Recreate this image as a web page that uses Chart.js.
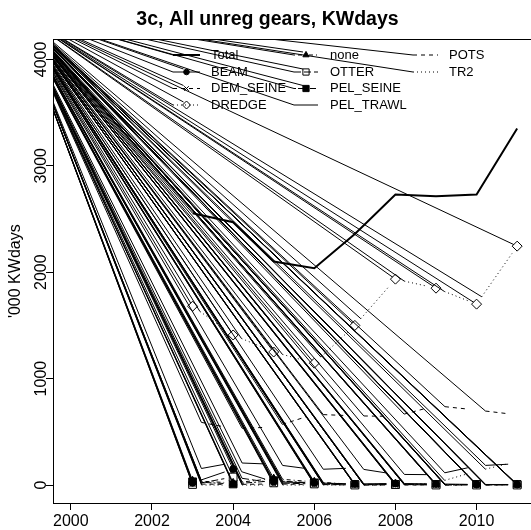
<!DOCTYPE html>
<html><head><meta charset="utf-8">
<script src="https://cdn.jsdelivr.net/npm/chart.js@4.4.1/dist/chart.umd.min.js"></script>
<style>html,body{margin:0;padding:0;overflow:hidden;background:#fff;width:531px;height:530px}canvas{display:block}</style>
</head><body><canvas id="c" width="588" height="530"></canvas>
<script>
// ---- data ----
const years = [2003, 2004, 2005, 2006, 2007, 2008, 2009, 2010, 2011];
const total    = [2554, 2470, 2100, 2037, 2360, 2730, 2715, 2730, 3350];
const beam     = [20, 150, 30, 20, 10, 15, 10, 5, 5];
const demSeine = [10, 5, 10, 5, 0, 0, 0, 0, 0];
const dredge   = [1680, 1410, 1250, 1145, 1500, 1935, 1850, 1700, 2245];
const none     = [40, 20, 60, 30, 5, 10, 5, 5, 5];
const otter    = [5, 75, 20, 10, 0, 5, 0, 0, 0];
const pelSeine = [30, 10, 40, 20, 5, 5, 5, 5, 5];
const pelTrawl = [140, 210, 195, 145, 160, 100, 97, 180, 200];
const pots     = [605, 530, 545, 665, 650, 645, 745, 705, 660];
const tr2      = [0, 0, 0, 0, 0, 0, 20, 130, 220];
const xTicks = [2000, 2002, 2004, 2006, 2008, 2010];
const yTicks = [0, 1000, 2000, 3000, 4000];
const fanX = 1998.65;   // common origin of the stray strokes
const fanY = 4460;

const FONT = "'Liberation Sans', Arial, sans-serif";
const GAP = 9; // px gap around points (type "b")

const defs = [
  {label:'Total',     vals: total,    dash: [],         w: 2, ps: false, typeB: false},
  {label:'BEAM',      vals: beam,     dash: [],         w: 1, ps: 'circle',   r: 3.5, fill: true},
  {label:'DEM_SEINE', vals: demSeine, dash: [4,4],      w: 1, ps: 'crossRot', r: 4,   fill: false},
  {label:'DREDGE',    vals: dredge,   dash: [1,3],      w: 1, ps: 'rectRot',  r: 5,   fill: false},
  {label:'none',      vals: none,     dash: [1,3,4,3],  w: 1, ps: 'triangle', r: 4.5, fill: true},
  {label:'OTTER',     vals: otter,    dash: [7,3],      w: 1, ps: 'rect',     r: 5.5, fill: false},
  {label:'PEL_SEINE', vals: pelSeine, dash: [2,2,6,2],  w: 1, ps: 'rect',     r: 5.5, fill: true},
  {label:'PEL_TRAWL', vals: pelTrawl, dash: [],         w: 1, ps: false},
  {label:'POTS',      vals: pots,     dash: [4,4],      w: 1, ps: false},
  {label:'TR2',       vals: tr2,      dash: [1,3],      w: 1, ps: false}
];

// dash array that leaves a gap of GAP px at both ends of a segment of length L
function gappedDash(L, pat) {
  const out = [0, GAP];
  let rem = L - 2 * GAP;
  if (!(rem > 0)) return [0, 100000];
  if (!pat.length) { out.push(rem, 100000); return out; }
  let k = 0;
  while (rem > 0) {
    const p = pat[k % pat.length];
    out.push(Math.min(p, rem)); rem -= p; k++;
  }
  if (out.length % 2 === 1) out.push(100000); else out.push(0, 100000);
  return out;
}

function segDash(ctx) {
  const ds = ctx.dataset, ch = ctx.chart;
  const xs = ch.scales && ch.scales.x, ys = ch.scales && ch.scales.y;
  if (!xs || !ys || !ds || !ds._seg) return [];
  const [a, b] = ds.data;
  const L = Math.hypot(xs.getPixelForValue(b.x) - xs.getPixelForValue(a.x),
                       ys.getPixelForValue(b.y) - ys.getPixelForValue(a.y));
  return isFinite(L) && L > 0 ? gappedDash(L, ds._seg) : ds._seg;
}

const datasets = [];
defs.forEach((d, k) => {
  const typeB = d.typeB !== false;
  // series: full line for Total, symbols only for the others
  datasets.push({
    label: d.label,
    data: years.map((y, i) => ({x: y, y: d.vals[i]})),
    showLine: !typeB,
    borderColor: '#000', borderWidth: d.w, borderDash: d.dash,
    pointStyle: d.ps || 'circle', pointRadius: d.ps ? d.r : 0,
    pointBorderColor: '#000', pointBorderWidth: 1,
    pointBackgroundColor: d.fill ? '#000' : '#fff',
    fill: false, tension: 0
  });
  // "type b" connecting segments, each with a gap at both ends
  if (typeB) {
    for (let i = 0; i < years.length - 1; i++) {
      datasets.push({
        label: d.label + '_seg' + i,
        data: [{x: years[i], y: d.vals[i]}, {x: years[i + 1], y: d.vals[i + 1]}],
        _seg: d.dash,
        borderColor: '#000', borderWidth: d.w, borderDash: segDash,
        pointRadius: 0, fill: false, tension: 0
      });
    }
  }
  // stray strokes from the common origin: to the start of the Total line,
  // and to every plotted symbol of the other series
  if (k === 0 || d.ps) {
    const fan = [];
    const n = k === 0 ? 1 : years.length;
    for (let i = 0; i < n; i++) {
      fan.push({x: fanX, y: fanY});
      fan.push({x: years[i], y: d.vals[i]});
      fan.push({x: years[i], y: null});
    }
    datasets.push({
      label: d.label + '_fan', data: fan,
      borderColor: '#000', borderWidth: 1, pointRadius: 0, fill: false, spanGaps: false
    });
  }
});

const legendCols = [
  {x0: 173, x1: 200, tx: 211, items: ['Total','BEAM','DEM_SEINE','DREDGE']},
  {x0: 294, x1: 318, tx: 330, items: ['none','OTTER','PEL_SEINE','PEL_TRAWL']},
  {x0: 413, x1: 438, tx: 449, items: ['POTS','TR2']}
];
const legendRows = [55, 72, 88.5, 105];

const rPlugin = {
  id: 'rstyle',
  afterDatasetsDraw(chart) {
    const ctx = chart.ctx, a = chart.chartArea;
    const xs = chart.scales.x, ys = chart.scales.y;
    const px = xs.getPixelForValue(fanX), py = ys.getPixelForValue(fanY);
    ctx.save();
    // stray strokes to the start of each gapped segment
    ctx.save();
    ctx.beginPath(); ctx.rect(a.left, a.top, a.right - a.left, a.bottom - a.top); ctx.clip();
    ctx.strokeStyle = '#000'; ctx.lineWidth = 1; ctx.setLineDash([]);
    defs.forEach(d => {
      if (d.typeB === false) return;
      for (let i = 0; i < years.length - 1; i++) {
        const x0 = xs.getPixelForValue(years[i]), y0 = ys.getPixelForValue(d.vals[i]);
        const x1 = xs.getPixelForValue(years[i + 1]), y1 = ys.getPixelForValue(d.vals[i + 1]);
        const L = Math.hypot(x1 - x0, y1 - y0);
        const sx = x0 + (x1 - x0) * GAP / L, sy = y0 + (y1 - y0) * GAP / L;
        ctx.beginPath(); ctx.moveTo(px, py); ctx.lineTo(sx, sy); ctx.stroke();
      }
    });
    // strokes to legend samples and legend symbols
    legendCols.forEach(col => col.items.forEach((name, j) => {
      const d = defs.find(e => e.label === name);
      ctx.beginPath(); ctx.moveTo(px, py); ctx.lineTo(col.x0, legendRows[j]); ctx.stroke();
      if (d.ps) {
        ctx.beginPath(); ctx.moveTo(px, py); ctx.lineTo((col.x0 + col.x1) / 2 - 3, legendRows[j] - 3); ctx.stroke();
      }
    }));
    ctx.restore();

    // legend
    ctx.font = '13px ' + FONT;
    ctx.textBaseline = 'middle';
    ctx.textAlign = 'left';
    ctx.fillStyle = '#000';
    ctx.strokeStyle = '#000';
    legendCols.forEach(col => {
      col.items.forEach((name, j) => {
        const d = defs.find(e => e.label === name);
        const y = legendRows[j];
        ctx.lineWidth = d.w; ctx.setLineDash(d.dash);
        ctx.beginPath(); ctx.moveTo(col.x0, y); ctx.lineTo(col.x1, y); ctx.stroke();
        ctx.setLineDash([]);
        if (d.ps) {
          ctx.lineWidth = 1;
          ctx.fillStyle = '#000';
          const opts = {pointStyle: d.ps, radius: d.r * 0.8, rotation: 0, borderWidth: 1};
          if (d.fill) {
            Chart.helpers.drawPoint(ctx, opts, (col.x0 + col.x1) / 2, y);
          } else {
            const saveFill = ctx.fill; ctx.fill = function(){};
            Chart.helpers.drawPoint(ctx, opts, (col.x0 + col.x1) / 2, y);
            ctx.fill = saveFill;
          }
        }
        ctx.fillStyle = '#000';
        ctx.fillText(name, col.tx, y);
      });
    });
    // box
    ctx.lineWidth = 1; ctx.setLineDash([]);
    ctx.strokeRect(Math.round(a.left) + 0.5, Math.round(a.top) + 0.5,
      Math.round(a.right - a.left), Math.round(a.bottom - a.top));
    // y tick labels, parallel to the axis
    ctx.font = '16px ' + FONT;
    ctx.textAlign = 'center';
    ctx.textBaseline = 'alphabetic';
    yTicks.forEach(v => {
      const y = ys.getPixelForValue(v);
      ctx.save(); ctx.translate(46, y); ctx.rotate(-Math.PI / 2);
      ctx.fillText(String(v), 0, 0); ctx.restore();
    });
    ctx.restore();
  }
};

new Chart(document.getElementById('c'), {
  type: 'line',
  data: {datasets},
  options: {
    responsive: false, animation: false, devicePixelRatio: 1,
    layout: {padding: {left: 0, right: 53, top: 0, bottom: 0}},
    plugins: {
      legend: {display: false}, tooltip: {enabled: false},
      title: {display: true, text: '3c, All unreg gears, KWdays', color: '#000',
        font: {family: FONT, size: 19.5, weight: 'bold'}, padding: {top: 8, bottom: 8}}
    },
    scales: {
      x: {
        type: 'linear', min: 1999.56, max: 2011.44,
        afterBuildTicks: s => { s.ticks = xTicks.map(v => ({value: v})); },
        afterFit: s => { s.height = 27; },
        grid: {display: true, drawOnChartArea: false, drawTicks: true, tickLength: 7, color: '#000'},
        border: {display: false},
        ticks: {color: '#000', font: {family: FONT, size: 16}, padding: 2, maxRotation: 0, autoSkip: false,
          callback: v => String(v)}
      },
      y: {
        type: 'linear', min: -169, max: 4188,
        afterBuildTicks: s => { s.ticks = yTicks.map(v => ({value: v})); },
        afterFit: s => { s.width = 53; },
        grid: {display: true, drawOnChartArea: false, drawTicks: true, tickLength: 7, color: '#000'},
        border: {display: false},
        ticks: {display: false},
        title: {display: true, text: "'000 KWdays", color: '#000',
          font: {family: FONT, size: 16}, padding: {top: 6, bottom: 0}}
      }
    }
  },
  plugins: [rPlugin]
});
</script></body></html>
